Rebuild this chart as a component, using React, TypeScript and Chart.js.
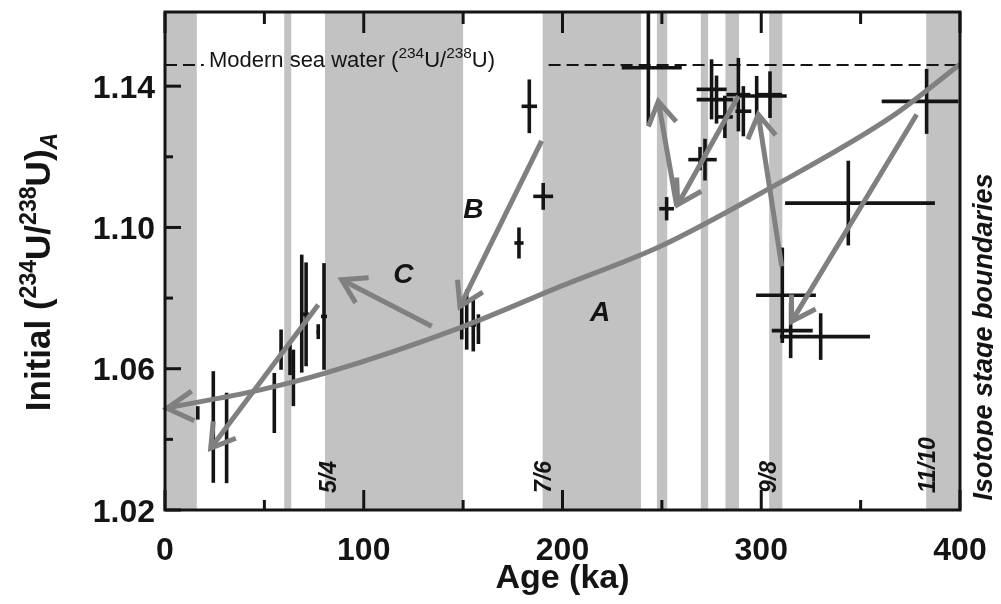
import { useEffect, useRef } from "react";
import { Chart, registerables } from "chart.js";

Chart.register(...registerables);

const FONT = '"Liberation Sans", Arial, Helvetica, sans-serif';
const BLACK = "#141414";
const GRAY = "#808080";
const BAND = "#c2c2c2";

// axis ranges and ticks
const xMin = 0;
const xMax = 400;
const yMin = 1.02;
const yMax = 1.161;
const xMajorTicks = [0, 100, 200, 300, 400];
const xMinorTicks = [50, 150, 250, 350];
const yMajorTicks = [1.02, 1.06, 1.1, 1.14];
const yMinorTicks = [1.04, 1.08, 1.12];
const yTickLabels = ["1.02", "1.06", "1.10", "1.14"];

// shaded isotope-stage intervals (ka)
const bandStart = [0, 60, 80.5, 190, 247.5, 269.6, 282, 304, 383];
const bandEnd = [16, 63.5, 150, 239.5, 252.7, 273.3, 288.8, 310.6, 400];

// isotope stage boundary labels
const stageText = ["5/4", "7/6", "9/8", "11/10"];
const stageAge = [82, 190.2, 303.4, 383.4];
const stageBaseU = 1.0248;

// samples: age (ka) with errors, initial (234U/238U) with errors
const sampleAge = [16.5, 24.3, 31, 55, 58.4, 62.9, 64.6, 68.8, 71, 77.1, 80, 149.3, 151.8, 155.1, 157.7, 178.1, 183.3, 190.3, 243.2, 252.4, 269.2, 271.7, 275, 277.5, 281.7, 288.5, 291, 297.7, 304.4, 310.6, 314.8, 329.9, 343.8, 383.2];
const ageErrMinus = [0, 0, 0, 0, 0.6, 0.6, 0, 0.8, 1.5, 0.8, 1.5, 0.8, 0, 1.5, 0.8, 2.3, 3.9, 5, 13.4, 3.7, 0, 8.4, 7.5, 10, 4, 6, 4, 10.1, 6, 13.2, 9.5, 20.5, 31.8, 22.6];
const ageErrPlus = [0, 0, 0, 0, 0.6, 0.6, 0, 0.8, 1.5, 0.8, 1.5, 0.8, 0, 1.5, 0.8, 2.3, 3.9, 5, 16.8, 3.7, 0, 5.9, 7.6, 8.4, 4, 6, 4, 15.1, 6, 16.9, 11.1, 24.8, 43.6, 16];
const sampleU = [1.0475, 1.0435, 1.0404, 1.0503, 1.0654, 1.0625, 1.0574, 1.0756, 1.0754, 1.0705, 1.0748, 1.073, 1.0739, 1.0724, 1.0712, 1.0956, 1.1343, 1.1088, 1.1452, 1.1053, 1.1195, 1.1192, 1.1391, 1.1362, 1.1313, 1.1376, 1.1329, 1.1372, 1.1376, 1.0808, 1.0708, 1.0691, 1.1069, 1.1357];
const uErr = [0.0019, 0.0158, 0.0128, 0.0085, 0.0057, 0.0043, 0.008, 0.0167, 0.0147, 0.0021, 0.0151, 0.0047, 0.0085, 0.0075, 0.0042, 0.0044, 0.0076, 0.0038, 0.016, 0.0033, 0.0033, 0.0059, 0.0085, 0.0068, 0.006, 0.0104, 0.0071, 0.0057, 0.0066, 0.0135, 0.0078, 0.0066, 0.012, 0.0092];

// curve A
const curveAge = [0, 48, 81, 148, 199, 249, 303, 366, 400];
const curveU = [1.0488, 1.054, 1.0588, 1.0715, 1.0833, 1.0946, 1.1107, 1.1315, 1.1462];

// arrows (from -> to)
const arrowFromAge = [189.5, 134.2, 77.1, 257.5, 288.5, 310.3, 378.2];
const arrowFromU = [1.1245, 1.072, 1.0781, 1.106, 1.1372, 1.089, 1.132];
const arrowToAge = [148.4, 88.9, 23, 248.2, 258, 298.5, 315.3];
const arrowToU = [1.0776, 1.0852, 1.0375, 1.1357, 1.1065, 1.132, 1.0734];

// letters
const letterText = ["A", "B", "C"];
const letterAge = [218.9, 155.1, 119.9];
const letterU = [1.0764, 1.1055, 1.0871];

// modern sea water
const seawaterU = 1.146;
const seawaterDashFrom = [0, 193];
const seawaterDashTo = [19.5, 400];
const seawaterTextAge = 22.1;

type Part = { t: string; s?: number; r?: number; it?: boolean };

function fontOf(p: Part, size: number, weight: string, italic: boolean) {
  const sz = size * (p.s ?? 1);
  return `${p.it || italic ? "italic " : ""}${weight} ${sz}px ${FONT}`;
}

function drawRich(ctx: CanvasRenderingContext2D, parts: Part[], x: number, y: number, size: number, weight: string, italic: boolean, align: "left" | "center") {
  let w = 0;
  for (const p of parts) {
    ctx.font = fontOf(p, size, weight, italic);
    w += ctx.measureText(p.t).width;
  }
  let cx = align === "center" ? x - w / 2 : x;
  ctx.textAlign = "left";
  ctx.textBaseline = "alphabetic";
  for (const p of parts) {
    ctx.font = fontOf(p, size, weight, italic);
    ctx.fillText(p.t, cx, y - (p.r ?? 0) * size);
    cx += ctx.measureText(p.t).width;
  }
}

function arrowHead(ctx: CanvasRenderingContext2D, tx: number, ty: number, fx: number, fy: number, len: number, ang: number) {
  const a = Math.atan2(fy - ty, fx - tx);
  ctx.beginPath();
  ctx.moveTo(tx + len * Math.cos(a + ang), ty + len * Math.sin(a + ang));
  ctx.lineTo(tx, ty);
  ctx.lineTo(tx + len * Math.cos(a - ang), ty + len * Math.sin(a - ang));
  ctx.stroke();
}

const overlay = {
  id: "overlay",
  beforeDatasetsDraw(chart: any) {
    const { ctx, chartArea: a, scales } = chart;
    const x = scales.x;
    const y = scales.y;
    ctx.save();
    ctx.fillStyle = BAND;
    for (let i = 0; i < bandStart.length; i++) {
      const x0 = x.getPixelForValue(bandStart[i]);
      const x1 = x.getPixelForValue(bandEnd[i]);
      ctx.fillRect(x0, a.top, x1 - x0, a.bottom - a.top);
    }
    // modern sea water dashed line
    ctx.strokeStyle = BLACK;
    ctx.lineWidth = 2;
    ctx.setLineDash([12, 6]);
    const sy = y.getPixelForValue(seawaterU);
    for (let i = 0; i < seawaterDashFrom.length; i++) {
      ctx.beginPath();
      ctx.moveTo(x.getPixelForValue(seawaterDashFrom[i]), sy);
      ctx.lineTo(x.getPixelForValue(seawaterDashTo[i]), sy);
      ctx.stroke();
    }
    ctx.setLineDash([]);
    // error bars
    ctx.lineWidth = 3.6;
    ctx.lineCap = "butt";
    for (let i = 0; i < sampleAge.length; i++) {
      const px = x.getPixelForValue(sampleAge[i]);
      const py = y.getPixelForValue(sampleU[i]);
      ctx.beginPath();
      ctx.moveTo(px, y.getPixelForValue(sampleU[i] - uErr[i]));
      ctx.lineTo(px, y.getPixelForValue(sampleU[i] + uErr[i]));
      ctx.stroke();
      const lo = ageErrMinus[i];
      const hi = ageErrPlus[i];
      if (lo + hi > 0) {
        ctx.beginPath();
        ctx.moveTo(x.getPixelForValue(sampleAge[i] - lo), py);
        ctx.lineTo(x.getPixelForValue(sampleAge[i] + hi), py);
        ctx.stroke();
      }
    }
    ctx.restore();
  },
  afterDatasetsDraw(chart: any) {
    const { ctx, chartArea: a, scales } = chart;
    const x = scales.x;
    const y = scales.y;
    ctx.save();
    // arrowheads
    ctx.strokeStyle = GRAY;
    ctx.lineWidth = 5;
    ctx.lineJoin = "miter";
    ctx.lineCap = "butt";
    for (let i = 0; i < arrowFromAge.length; i++) {
      arrowHead(ctx, x.getPixelForValue(arrowToAge[i]), y.getPixelForValue(arrowToU[i]), x.getPixelForValue(arrowFromAge[i]), y.getPixelForValue(arrowFromU[i]), 27, 0.55);
    }
    arrowHead(ctx, x.getPixelForValue(curveAge[0]) + 2, y.getPixelForValue(curveU[0]), x.getPixelForValue(curveAge[1]), y.getPixelForValue(curveU[1]) + 10, 30, 0.52);

    // frame
    ctx.strokeStyle = BLACK;
    ctx.lineWidth = 3;
    ctx.strokeRect(a.left, a.top, a.right - a.left, a.bottom - a.top);
    // ticks (inward)
    const tick = (x0: number, y0: number, x1: number, y1: number) => {
      ctx.beginPath();
      ctx.moveTo(x0, y0);
      ctx.lineTo(x1, y1);
      ctx.stroke();
    };
    for (const v of xMajorTicks) {
      const px = x.getPixelForValue(v);
      tick(px, a.bottom, px, a.bottom - 20);
      tick(px, a.top, px, a.top + 21);
    }
    for (const v of xMinorTicks) {
      const px = x.getPixelForValue(v);
      tick(px, a.bottom, px, a.bottom - 10);
      tick(px, a.top, px, a.top + 12);
    }
    for (const v of yMajorTicks) {
      const py = y.getPixelForValue(v);
      tick(a.left, py, a.left + 16, py);
    }
    for (const v of yMinorTicks) {
      const py = y.getPixelForValue(v);
      tick(a.left, py, a.left + 8, py);
    }

    ctx.fillStyle = BLACK;
    // tick labels
    ctx.font = `bold 32px ${FONT}`;
    ctx.textBaseline = "alphabetic";
    ctx.textAlign = "center";
    for (const v of xMajorTicks) {
      ctx.fillText(String(v), x.getPixelForValue(v), a.bottom + 50);
    }
    ctx.textAlign = "right";
    for (let i = 0; i < yMajorTicks.length; i++) {
      ctx.fillText(yTickLabels[i], a.left - 10, y.getPixelForValue(yMajorTicks[i]) + 11.5);
    }
    // x title
    ctx.textAlign = "center";
    ctx.font = `bold 34px ${FONT}`;
    ctx.fillText("Age (ka)", (a.left + a.right) / 2, a.bottom + 78);
    // y title
    ctx.save();
    ctx.translate(a.left - 115, (a.top + a.bottom) / 2 + 11);
    ctx.rotate(-Math.PI / 2);
    drawRich(ctx, [
      { t: "Initial (" },
      { t: "234", s: 0.66, r: 0.4 },
      { t: "U/" },
      { t: "238", s: 0.66, r: 0.4 },
      { t: "U)" },
      { t: "A", s: 0.66, r: -0.2, it: true },
    ], 0, 0, 35, "bold", false, "center");
    ctx.restore();
    // right-side label
    ctx.save();
    ctx.translate(a.right + 32, 329);
    ctx.rotate(-Math.PI / 2);
    drawRich(ctx, [{ t: "Isotope stage boundaries" }], 0, 0, 27, "bold", true, "center");
    ctx.restore();
    // stage labels
    for (let i = 0; i < stageText.length; i++) {
      ctx.save();
      ctx.translate(x.getPixelForValue(stageAge[i]) + 8, y.getPixelForValue(stageBaseU));
      ctx.rotate(-Math.PI / 2);
      ctx.font = `italic bold 23px ${FONT}`;
      ctx.textAlign = "left";
      ctx.textBaseline = "alphabetic";
      ctx.fillText(stageText[i], 0, 0);
      ctx.restore();
    }
    // letters
    ctx.font = `italic bold 28px ${FONT}`;
    ctx.textAlign = "center";
    for (let i = 0; i < letterText.length; i++) {
      ctx.fillText(letterText[i], x.getPixelForValue(letterAge[i]), y.getPixelForValue(letterU[i]) + 10);
    }
    // modern sea water text
    drawRich(ctx, [
      { t: "Modern sea water (" },
      { t: "234", s: 0.7, r: 0.42 },
      { t: "U/" },
      { t: "238", s: 0.7, r: 0.42 },
      { t: "U)" },
    ], x.getPixelForValue(seawaterTextAge), y.getPixelForValue(seawaterU) + 2, 22, "normal", false, "left");
    ctx.restore();
  },
};

export default function App() {
  const ref = useRef<HTMLCanvasElement>(null);
  useEffect(() => {
    const canvas = ref.current;
    if (!canvas) return;
    const datasets: any[] = [
      {
        label: "samples",
        data: sampleAge.map((v, i) => ({ x: v, y: sampleU[i] })),
        pointRadius: 0,
        showLine: false,
      },
      {
        label: "A",
        data: curveAge.map((v, i) => ({ x: v, y: curveU[i] })),
        showLine: true,
        borderColor: GRAY,
        borderWidth: 5,
        pointRadius: 0,
        cubicInterpolationMode: "monotone",
        tension: 0.4,
      },
    ];
    for (let i = 0; i < arrowFromAge.length; i++) {
      datasets.push({
        label: "arrow" + i,
        data: [
          { x: arrowFromAge[i], y: arrowFromU[i] },
          { x: arrowToAge[i], y: arrowToU[i] },
        ],
        showLine: true,
        borderColor: GRAY,
        borderWidth: 5,
        pointRadius: 0,
        tension: 0,
      });
    }
    const chart = new Chart(canvas, {
      type: "scatter",
      data: { datasets },
      options: {
        animation: false,
        responsive: false,
        devicePixelRatio: 1,
        events: [],
        layout: { padding: { left: 157, right: 33, top: 4, bottom: 86 } },
        plugins: { legend: { display: false }, tooltip: { enabled: false } },
        scales: {
          x: { type: "linear", min: xMin, max: xMax, display: false },
          y: { type: "linear", min: yMin, max: yMax, display: false },
        },
      },
      plugins: [overlay],
    } as any);
    return () => chart.destroy();
  }, []);
  return (
    <div style={{ width: 985, height: 588 }}>
      <canvas ref={ref} width={985} height={588} style={{ display: "block" }} />
    </div>
  );
}
